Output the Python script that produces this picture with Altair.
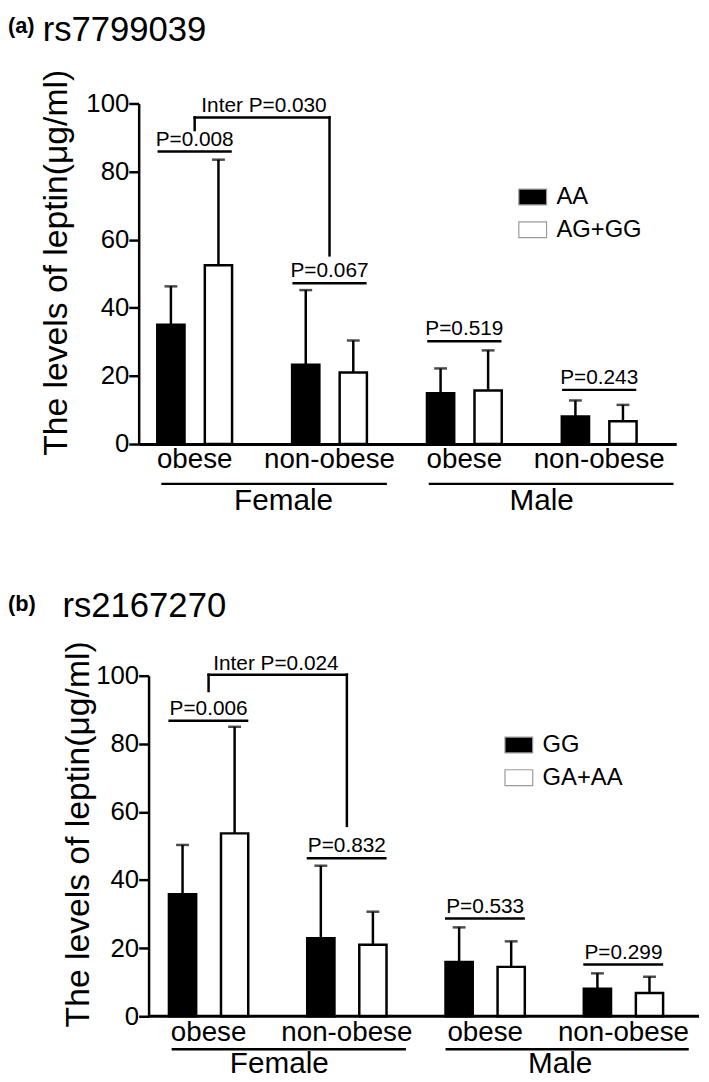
import altair as alt
import pandas as pd

# ---------------- data ----------------
groups = ["Female|obese", "Female|non-obese", "Male|obese", "Male|non-obese"]
y_ticks = [0, 20, 40, 60, 80, 100]
y_title = "The levels of leptin(μg/ml)"

# panel (a)
a_tag = "(a)"
a_snp = "rs7799039"
a_genotypes = ["AA", "AG+GG"]
a_mean_1 = [35.0, 23.3, 14.9, 8.1]
a_sd_1 = [11.3, 21.9, 7.3, 4.7]
a_mean_2 = [52.5, 21.0, 15.7, 6.7]
a_sd_2 = [31.0, 9.4, 11.8, 4.8]
a_p_text = ["P=0.008", "P=0.067", "P=0.519", "P=0.243"]
a_p_level = [85.9, 47.2, 30.2, 15.9]
a_inter_text = "Inter P=0.030"
a_inter_level = [95.9, 92.2, 55.4]   # bracket top, left leg end, right leg end

# panel (b)
b_tag = "(b)"
b_snp = "rs2167270"
b_genotypes = ["GG", "GA+AA"]
b_mean_1 = [35.8, 22.9, 15.9, 8.1]
b_sd_1 = [14.5, 21.3, 10.2, 4.5]
b_mean_2 = [53.7, 21.0, 14.5, 6.8]
b_sd_2 = [31.3, 9.7, 7.5, 4.8]
b_p_text = ["P=0.006", "P=0.832", "P=0.533", "P=0.299"]
b_p_level = [86.8, 46.4, 28.7, 15.2]
b_inter_text = "Inter P=0.024"
b_inter_level = [100.3, 95.5, 55.9]

# ---------------- style / layout ----------------
FONT = "Liberation Sans"
LW = 2.5
H = 344

LA = dict(width=543, po=0.1184, align=0.17, pi2=0.427, po2=0.277, pl=(0.133, 0.867), yoff=0,
          tag_xy=(-132, -71), snp_xy=(-97, -63), title_xy=(-73, 160.5),
          legend_xy=(383, 79.5), inter_dx=70, fem_line=(0.17, 6.9), male_line=(0.148, 24),
          fem_dx=89.8, male_dx=78.1, line_lv=-11.7, text_lv=-19.3)
LB = dict(width=566, po=0.151, align=0.432, pi2=0.477, po2=0.2345, pl=(0.113, 0.883), yoff=-10,
          tag_xy=(-132, -65.5), snp_xy=(-77, -59.3), title_xy=(-60.7, 159.8),
          legend_xy=(369, 55), inter_dx=68, fem_line=(0.144, 7.3), male_line=(0.118, 13.6),
          fem_dx=71.4, male_dx=75.7, line_lv=-9.7, text_lv=-16.8)


def panel(tag, snp, genos, m1, s1, m2, s2, ptext, plevel, itext, ilevel, L):
    rows = []
    for i, g in enumerate(groups):
        rows.append(dict(grp=g, geno=genos[0], mean=m1[i], top=m1[i] + s1[i]))
        rows.append(dict(grp=g, geno=genos[1], mean=m2[i], top=m2[i] + s2[i]))
    df = pd.DataFrame(rows)

    xs = alt.Scale(domain=groups, paddingInner=0.25, paddingOuter=L["po"], align=L["align"])
    xos = alt.Scale(domain=genos, paddingInner=L["pi2"], paddingOuter=L["po2"])
    ys = alt.Scale(domain=[0, 100], nice=False, zero=True)

    shifted = L["yoff"] != 0
    x_axis = alt.Axis(title=None, labelExpr="split(datum.label, '|')[1]", labelAngle=0,
                      labelFontSize=28, labelFont=FONT, labelColor="black", labelBaseline="top",
                      labelPadding=2, ticks=False, tickSize=0, domain=not shifted,
                      domainWidth=3, domainColor="black", grid=False)
    y_axis = alt.Axis(title=y_title, values=y_ticks, grid=False, tickSize=10, tickWidth=LW,
                      tickColor="black", domainWidth=LW, domainColor="black", labelFontSize=26,
                      labelFont=FONT, labelColor="black", labelPadding=0, titleFontSize=34,
                      titleFont=FONT, titleFontWeight="normal", titleColor="black",
                      titleX=L["title_xy"][0], titleY=L["title_xy"][1], titleAlign="center",
                      titleBaseline="alphabetic", offset=L["yoff"])

    def X(field="grp", bp=None):
        kw = dict(scale=xs, sort=groups, axis=x_axis)
        if bp is not None:
            kw["bandPosition"] = bp
        return alt.X(f"{field}:N", **kw)

    def Y(field):
        return alt.Y(f"{field}:Q", scale=ys, axis=y_axis)

    XO = alt.XOffset("geno:N", scale=xos, sort=genos)

    bars = alt.Chart(df).mark_bar(stroke="black", strokeWidth=LW).encode(
        x=X(), xOffset=XO, y=Y("mean"),
        fill=alt.Fill("geno:N", sort=genos,
                      scale=alt.Scale(domain=genos, range=["black", "white"]),
                      legend=alt.Legend(title=None, orient="none",
                                        legendX=L["legend_xy"][0], legendY=L["legend_xy"][1],
                                        symbolType="M-1,-0.57H1V0.57H-1Z", symbolSize=784,
                                        symbolStrokeColor="#9a9a9a", symbolStrokeWidth=1.2,
                                        labelFontSize=24, labelFont=FONT, labelColor="black",
                                        labelOffset=9, rowPadding=6, padding=0)),
    )
    err = alt.Chart(df).mark_rule(color="black", strokeWidth=LW).encode(
        x=X(), xOffset=XO, y=Y("mean"), y2="top:Q",
    )
    cap = alt.Chart(df).mark_tick(color="black", thickness=LW, size=13).encode(
        x=X(), xOffset=XO, y=Y("top"),
    )

    pdf = pd.DataFrame(dict(grp=groups, plab=ptext, py=plevel))
    pline = alt.Chart(pdf).mark_rule(color="black", strokeWidth=LW).encode(
        x=X("grp", L["pl"][0]),
        x2=alt.X2("grp", bandPosition=L["pl"][1]),
        y=Y("py"),
    )
    ptxt = alt.Chart(pdf).mark_text(fontSize=21, font=FONT, color="black",
                                     baseline="alphabetic", dy=-6).encode(
        x=X(), y=Y("py"), text="plab:N",
    )

    idf = pd.DataFrame(dict(xa=[groups[0], groups[0], groups[1]],
                            xb=[groups[1], groups[0], groups[1]],
                            ya=[ilevel[0], ilevel[1], ilevel[2]],
                            yb=[ilevel[0], ilevel[0], ilevel[0]]))
    iline = alt.Chart(idf).mark_rule(color="black", strokeWidth=LW, strokeCap="square").encode(
        x=X("xa"), x2="xb:N", y=Y("ya"), y2="yb:Q",
    )
    itxt = alt.Chart(pd.DataFrame(dict(xa=[groups[0]], t=[itext], y=[ilevel[0]]))).mark_text(
        fontSize=21, font=FONT, color="black", baseline="alphabetic", dy=-5, dx=L["inter_dx"]
    ).encode(x=X("xa"), y=Y("y"), text="t:N")

    layers = [bars, err, cap, pline, ptxt, iline, itxt]

    if shifted:
        # baseline starting at the (offset) y-axis
        layers.append(alt.Chart(pd.DataFrame(dict(z=[0]))).mark_rule(
            color="black", strokeWidth=3).encode(
            x=alt.value(-L["yoff"]), x2=alt.value(L["width"]), y=Y("z")))

    for name, g1, g2, lpos, dx in [("Female", groups[0], groups[1], L["fem_line"], L["fem_dx"]),
                                   ("Male", groups[2], groups[3], L["male_line"], L["male_dx"])]:
        gdf = pd.DataFrame(dict(g1=[g1], g2=[g2], lv=[L["line_lv"]], tv=[L["text_lv"]], t=[name]))
        layers.append(alt.Chart(gdf).mark_rule(color="black", strokeWidth=LW,
                                               x2Offset=lpos[1]).encode(
            x=X("g1", lpos[0]),
            x2=alt.X2("g2", bandPosition=1),
            y=Y("lv"),
        ))
        layers.append(alt.Chart(gdf).mark_text(fontSize=30, font=FONT, color="black",
                                               baseline="alphabetic", dx=dx).encode(
            x=X("g1"), y=Y("tv"), text="t:N",
        ))

    tdf = pd.DataFrame(dict(tag=[tag], snp=[snp]))
    layers.append(alt.Chart(tdf).mark_text(fontSize=22, font=FONT, fontWeight="bold",
                                           color="black", align="left",
                                           baseline="alphabetic").encode(
        x=alt.value(L["tag_xy"][0]), y=alt.value(L["tag_xy"][1]), text="tag:N"))
    layers.append(alt.Chart(tdf).mark_text(fontSize=35, font=FONT, color="black", align="left",
                                           baseline="alphabetic").encode(
        x=alt.value(L["snp_xy"][0]), y=alt.value(L["snp_xy"][1]), text="snp:N"))

    return alt.layer(*layers).properties(width=L["width"], height=H)


pa = panel(a_tag, a_snp, a_genotypes, a_mean_1, a_sd_1, a_mean_2, a_sd_2,
           a_p_text, a_p_level, a_inter_text, a_inter_level, LA)
pb = panel(b_tag, b_snp, b_genotypes, b_mean_1, b_sd_1, b_mean_2, b_sd_2,
           b_p_text, b_p_level, b_inter_text, b_inter_level, LB)

chart = alt.vconcat(pa, pb, spacing=73).resolve_scale(
    fill="independent", x="independent", y="independent", xOffset="independent"
).resolve_legend(fill="independent").properties(
    padding={"left": 0, "top": 0, "right": 0, "bottom": 0},
    background="white",
).configure_view(stroke=None)

chart.save("out.html", embed_options={"renderer": "svg", "actions": False})
